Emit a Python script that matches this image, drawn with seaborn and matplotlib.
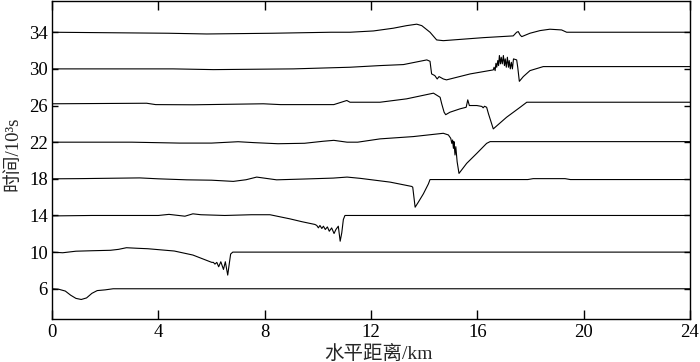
import pandas as pd
import matplotlib.pyplot as plt
import seaborn as sns

# Horizontal distance (km) and time (10^3 s) for each trace
x_06 = [0, 0.25, 0.5, 0.7, 0.9, 1.1, 1.3, 1.5, 1.7, 2.0, 2.3, 24]
y_06 = [6.0, 5.95, 5.75, 5.3, 4.95, 4.83, 5.0, 5.5, 5.8, 5.88, 6.0, 6.0]

x_10 = [0, 0.4, 0.9, 1.5, 2.2, 2.5, 2.8, 3.2, 3.6, 4.6, 5.3, 6.01, 6.07, 6.13, 6.20,
        6.27, 6.35, 6.45, 6.52, 6.61, 6.67, 6.72, 6.80, 24]
y_10 = [10.0, 9.93, 10.1, 10.15, 10.2, 10.3, 10.48, 10.42, 10.37, 10.12, 9.68, 8.88, 8.88,
        8.69, 8.88, 8.40, 8.95, 8.11, 8.95, 7.49, 8.77, 9.79, 10.0, 10.0]

x_14 = [0, 0.6, 1.5, 3.0, 4.0, 4.4, 5.0, 5.3, 5.6, 6.5, 7.5, 8.2, 8.95, 9.4, 9.89, 9.96,
        10.02, 10.08, 10.15, 10.21, 10.28, 10.36, 10.43, 10.52, 10.61, 10.68, 10.77, 10.84,
        10.90, 10.96, 11.02, 24]
y_14 = [13.95, 13.97, 14.0, 14.0, 14.0, 14.12, 13.92, 14.18, 14.08, 14.0, 14.08, 14.08, 13.63,
        13.32, 13.02, 12.91, 12.65, 12.91, 12.58, 12.83, 12.47, 12.75, 12.28, 12.64, 12.03,
        12.47, 12.83, 11.19, 12.10, 13.56, 14.0, 14.0]

x_18 = [0, 1.0, 3.3, 4.0, 5.07, 6.0, 6.82, 7.3, 7.7, 8.45, 9.5, 10.58, 11.1, 11.6, 12.72,
        13.53, 13.57, 13.66, 13.78, 13.97, 14.16, 14.22, 17.9, 18.1, 19.3, 19.5, 24]
y_18 = [18.0, 18.02, 18.1, 18.0, 17.89, 17.85, 17.72, 17.9, 18.19, 17.89, 17.98, 18.08, 18.19,
        18.05, 17.64, 17.17, 17.09, 14.9, 15.45, 16.36, 17.45, 17.92, 17.92, 18.02, 18.02,
        17.92, 17.92]

x_22 = [0, 1.5, 3.0, 4.8, 6.0, 7.0, 7.6, 8.5, 9.5, 10.2, 10.6, 11.1, 11.5, 12.34, 13.59,
        14.72, 14.91, 15.0, 15.04, 15.07, 15.1, 15.12, 15.16, 15.19, 15.24, 15.31, 15.6,
        15.98, 16.35, 16.48, 24]
y_22 = [22.0, 22.0, 22.0, 21.9, 21.9, 22.05, 21.95, 21.83, 21.88, 22.1, 22.2, 22.0, 22.0,
        22.36, 22.61, 22.97, 22.79, 22.42, 21.87, 22.24, 21.33, 22.06, 20.6, 21.51, 19.87,
        18.59, 19.69, 20.78, 21.87, 22.06, 22.06]

x_26 = [0, 3.56, 3.9, 5.32, 7.95, 8.6, 10.6, 11.09, 11.21, 12.34, 13.34, 14.35, 14.6, 14.66,
        14.75, 14.81, 14.97, 15.35, 15.58, 15.64, 15.7, 15.98, 16.17, 16.22, 16.27, 16.35,
        16.42, 16.6, 17.1, 17.61, 17.86, 24]
y_26 = [26.19, 26.25, 26.1, 26.08, 26.19, 26.1, 26.1, 26.55, 26.36, 26.36, 26.73, 27.35,
        26.9, 26.19, 25.27, 25.0, 25.27, 25.64, 25.81, 26.62, 26.0, 26.0, 25.9, 25.75,
        25.92, 25.81, 25.09, 23.45, 24.72, 25.81, 26.36, 26.36]

x_30 = [0, 4.55, 6.07, 9.08, 11.21, 12.34, 13.22, 14.1, 14.22, 14.28, 14.4, 14.49, 14.56,
        14.72, 14.84, 15.73, 16.6, 16.63, 16.67, 16.70, 16.73, 16.77, 16.8, 16.83, 16.87,
        16.9, 16.94, 16.98, 17.02, 17.05, 17.09, 17.13, 17.17, 17.2, 17.24, 17.28, 17.32,
        17.36, 17.48, 17.52, 17.58, 17.73, 17.98, 18.48, 24]
y_30 = [30.0, 30.0, 29.92, 30.0, 30.18, 30.36, 30.47, 30.98, 30.83, 29.45, 29.27, 28.9,
        29.16, 28.9, 28.8, 29.45, 29.89, 30.18, 29.81, 30.61, 30.18, 30.91, 30.36, 31.46,
        30.55, 31.27, 30.55, 31.46, 30.36, 31.09, 30.18, 31.27, 30.18, 30.91, 30.0, 30.72,
        30.0, 31.09, 30.98, 30.18, 28.64, 29.16, 29.81, 30.25, 30.25]

x_34 = [0, 4.37, 5.82, 8.3, 10.5, 11.21, 12.09, 12.84, 13.34, 13.72, 13.91, 14.22, 14.47,
        14.72, 16.23, 17.35, 17.48, 17.54, 17.61, 17.67, 17.98, 18.36, 18.73, 19.17, 19.36,
        19.55, 24]
y_34 = [34.0, 33.89, 33.81, 33.89, 34.0, 34.0, 34.14, 34.44, 34.72, 34.88, 34.72, 34.0,
        33.16, 33.08, 33.41, 33.6, 34.0, 34.07, 33.7, 33.52, 33.89, 34.18, 34.33, 34.25,
        34.0, 34.0, 34.0]

x_ticks = [0, 4, 8, 12, 16, 20, 24]
y_ticks = [6, 10, 14, 18, 22, 26, 30, 34]

traces = {6: (x_06, y_06), 10: (x_10, y_10), 14: (x_14, y_14), 18: (x_18, y_18),
          22: (x_22, y_22), 26: (x_26, y_26), 30: (x_30, y_30), 34: (x_34, y_34)}
df = pd.concat([pd.DataFrame({'x': xs, 'y': ys, 'trace': k}) for k, (xs, ys) in traces.items()],
               ignore_index=True)

sns.set_style('ticks')
plt.rcParams['font.family'] = ['Liberation Serif', 'Noto Sans CJK SC', 'DejaVu Sans']

fig, ax = plt.subplots(figsize=(7, 3.62), dpi=100)
fig.subplots_adjust(left=0.0743, right=0.9857, bottom=0.1188, top=0.997)

sns.lineplot(data=df, x='x', y='y', units='trace', estimator=None, sort=False,
             color='black', lw=0.8, ax=ax)

ax.set_xlim(0, 24)
ax.set_ylim(2.7, 37.4)
ax.set_xticks(x_ticks)
ax.set_yticks(y_ticks)
ax.tick_params(axis='both', direction='in', top=True, right=True, labelsize=13.5,
               colors='black', width=1)
ax.tick_params(axis='x', length=6.5, pad=3.5)
ax.tick_params(axis='y', length=4.5, pad=3)
for s in ax.spines.values():
    s.set_linewidth(1.0)
    s.set_color('black')

ax.set_xlabel('水平距离/km', fontsize=14)
ax.xaxis.set_label_coords(0.5125, -0.082)
ax.set_ylabel('时间/10³s', fontsize=13.5)
ax.yaxis.set_label_coords(-0.048, 0.52)

plt.savefig('out.png', dpi=100)
